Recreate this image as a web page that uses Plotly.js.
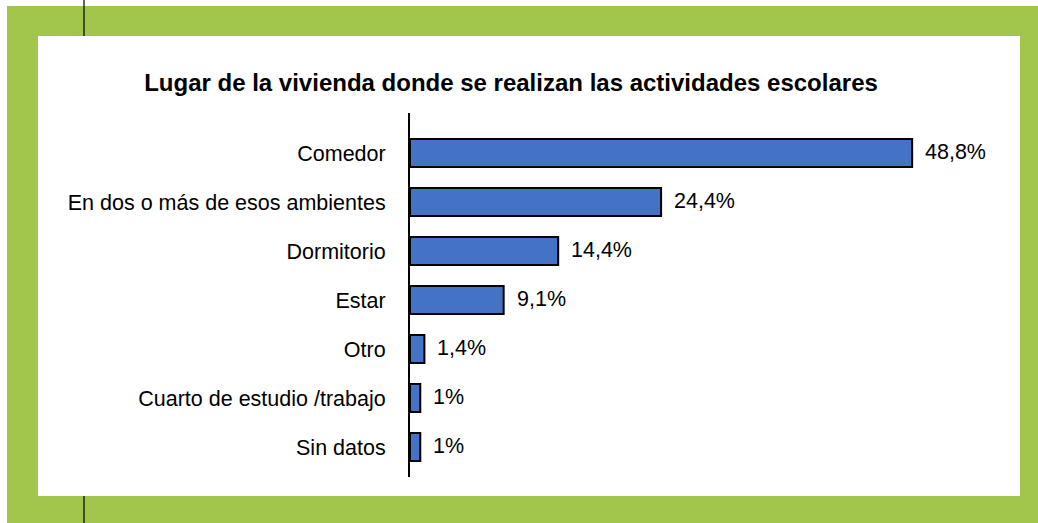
<!DOCTYPE html>
<html>
<head>
<meta charset="utf-8">
<script src="https://cdn.plot.ly/plotly-3.0.1.min.js"></script>
<style>html,body{margin:0;padding:0;background:#fff;}#chart{width:1038px;height:523px;}</style>
</head>
<body>
<div id="chart"></div>
<script>
const categories = ["Comedor", "En dos o más de esos ambientes", "Dormitorio", "Estar", "Otro", "Cuarto de estudio /trabajo", "Sin datos"];
const values = [48.8, 24.4, 14.4, 9.1, 1.4, 1, 1];
const valueLabels = ["48,8%", "24,4%", "14,4%", "9,1%", "1,4%", "1%", "1%"];
const titleText = "Lugar de la vivienda donde se realizan las actividades escolares";

const W = 1038, H = 523;
const L = 410, R = 38, T = 113, B = 46;
const pw = W - L - R, ph = H - T - B;
const px = v => (v - L) / pw;
const py = v => (H - B - v) / ph;

const green = "#a2c54b";
const font = "Liberation Sans, Arial, sans-serif";

const trace = {
  type: "bar",
  orientation: "h",
  y: categories,
  x: values,
  marker: {color: "#4472c4", line: {color: "#000", width: 2}},
  hoverinfo: "none"
};

const annotations = categories.map((c, i) => ({
  x: values[i], y: c, xref: "x", yref: "y",
  text: valueLabels[i], showarrow: false,
  xanchor: "left", yanchor: "middle", xshift: 11, yshift: 1,
  font: {family: font, size: 21.5, color: "#000"}
}));

const layout = {
  width: W, height: H,
  margin: {l: L, r: R, t: T, b: B, pad: 0},
  paper_bgcolor: "#fff",
  plot_bgcolor: "rgba(0,0,0,0)",
  showlegend: false,
  bargap: 0.43,
  title: {text: "<b>" + titleText + "</b>", xref: "container", x: 511 / W, xanchor: "center",
          yref: "container", y: 1 - 83 / H, yanchor: "middle",
          font: {family: font, size: 24, color: "#000"}},
  xaxis: {range: [0, pw / 10.29], visible: false, fixedrange: true},
  yaxis: {
    type: "category",
    range: [6.612, -0.816],
    showline: true, linecolor: "#000", linewidth: 2,
    showgrid: false, zeroline: false, ticks: "", ticklabelstandoff: 18,
    tickfont: {family: font, size: 21.5, color: "#000"},
    fixedrange: true
  },
  annotations: annotations,
  shapes: [
    {type: "rect", xref: "paper", yref: "paper", x0: px(7), x1: px(1040), y0: py(6), y1: py(525), fillcolor: green, line: {width: 0}, layer: "below"},
    {type: "rect", xref: "paper", yref: "paper", x0: px(38), x1: px(1020), y0: py(36), y1: py(496), fillcolor: "#fff", line: {width: 0}, layer: "below"},
    {type: "line", xref: "paper", yref: "paper", x0: px(84), x1: px(84), y0: py(0), y1: py(36), line: {color: "#000", width: 1.2}, layer: "below"},
    {type: "line", xref: "paper", yref: "paper", x0: px(84), x1: px(84), y0: py(496), y1: py(523), line: {color: "#000", width: 1.2}, layer: "below"}
  ]
};

Plotly.newPlot("chart", [trace], layout, {displayModeBar: false, staticPlot: true});
</script>
</body>
</html>
